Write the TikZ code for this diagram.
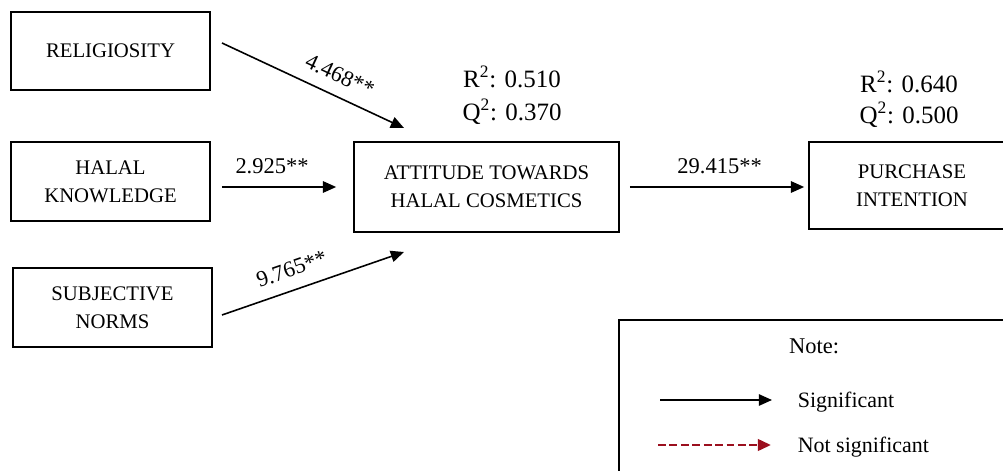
\documentclass[tikz,border=0pt]{standalone}
\usepackage{fontspec}
\setmainfont{Liberation Serif}
\usetikzlibrary{arrows.meta}
\definecolor{nsred}{RGB}{155,15,30}

\begin{document}
\begin{tikzpicture}[x=0.02cm, y=-0.02cm, line width=0.9pt,
    box/.style={draw, line width=1pt, align=center, inner sep=0pt,
      font=\fontsize{11.8}{15.9}\selectfont},
    stat/.style={anchor=base, inner sep=0pt, font=\fontsize{14.2}{17}\selectfont},
    coef/.style={above=7pt, inner sep=0pt, font=\fontsize{12.8}{15}\selectfont},
    legtext/.style={anchor=base west, inner sep=0pt, font=\fontsize{12.5}{15}\selectfont},
    arr/.style={-{Triangle[length=7.5pt,width=6.5pt]}}]
  \useasboundingbox (0,0) rectangle (1003,470);
  \clip (0,0) rectangle (1003,470);
  % constructs
  \node[box, minimum width=3.98cm, minimum height=1.56cm] (rel) at (110.5,51) {RELIGIOSITY};
  \node[box, minimum width=3.98cm, minimum height=1.58cm] (hal) at (110.5,181.5) {HALAL\\KNOWLEDGE};
  \node[box, minimum width=3.98cm, minimum height=1.58cm] (sub) at (112.5,307.5) {SUBJECTIVE\\NORMS};
  \node[box, minimum width=5.3cm, minimum height=1.8cm] (att) at (486.5,187) {ATTITUDE TOWARDS\\HALAL COSMETICS};
  \node[box, minimum width=4.12cm, minimum height=1.74cm] (pur) at (912,185.5) {PURCHASE\\INTENTION};
  % R2 / Q2
  \node[stat] (att-r) at (512,87) {R\textsuperscript{2}: 0.510};
  \node[stat] (att-q) at (512,120) {Q\textsuperscript{2}: 0.370};
  \node[stat] (pur-r) at (909,92) {R\textsuperscript{2}: 0.640};
  \node[stat] (pur-q) at (909,123) {Q\textsuperscript{2}: 0.500};
  % paths
  \coordinate (rel-out) at (222,43);
  \coordinate (att-in1) at (404,128);
  \coordinate (sub-out) at (222,315);
  \coordinate (att-in3) at (404,252);
  \draw[arr] (rel-out) -- node[coef, sloped, pos=0.6] {4.468**} (att-in1);
  \draw[arr, shorten <=0.22cm, shorten >=0.34cm] (hal.east |- att.west) -- node[coef, pos=0.43] {2.925**} (att.west);
  \draw[arr] (sub-out) -- node[coef, sloped, pos=0.42] {9.765**} (att-in3);
  \draw[arr, shorten <=0.2cm, shorten >=0.08cm] (att.east) -- node[coef, pos=0.53] {29.415**} (att.east -| pur.west);
  % note
  \node[draw, line width=1pt, minimum width=7.84cm, minimum height=3.22cm, anchor=north west] (legend) at (618,319) {};
  \node[anchor=base, inner sep=0pt, font=\fontsize{12.8}{15}\selectfont] (note) at (814,353) {Note:};
  \coordinate (sig-a) at (660,400);
  \coordinate (sig-b) at (772,400);
  \coordinate (ns-a) at (658,445);
  \coordinate (ns-b) at (771,445);
  \draw[arr] (sig-a) -- (sig-b);
  \draw[arr, nsred, line width=1.6pt, dash pattern=on 4.5pt off 2pt] (ns-a) -- (ns-b);
  \node[legtext] (sig) at (797,407) {Significant};
  \node[legtext] (ns) at (797,452) {Not significant};
\end{tikzpicture}
\end{document}
